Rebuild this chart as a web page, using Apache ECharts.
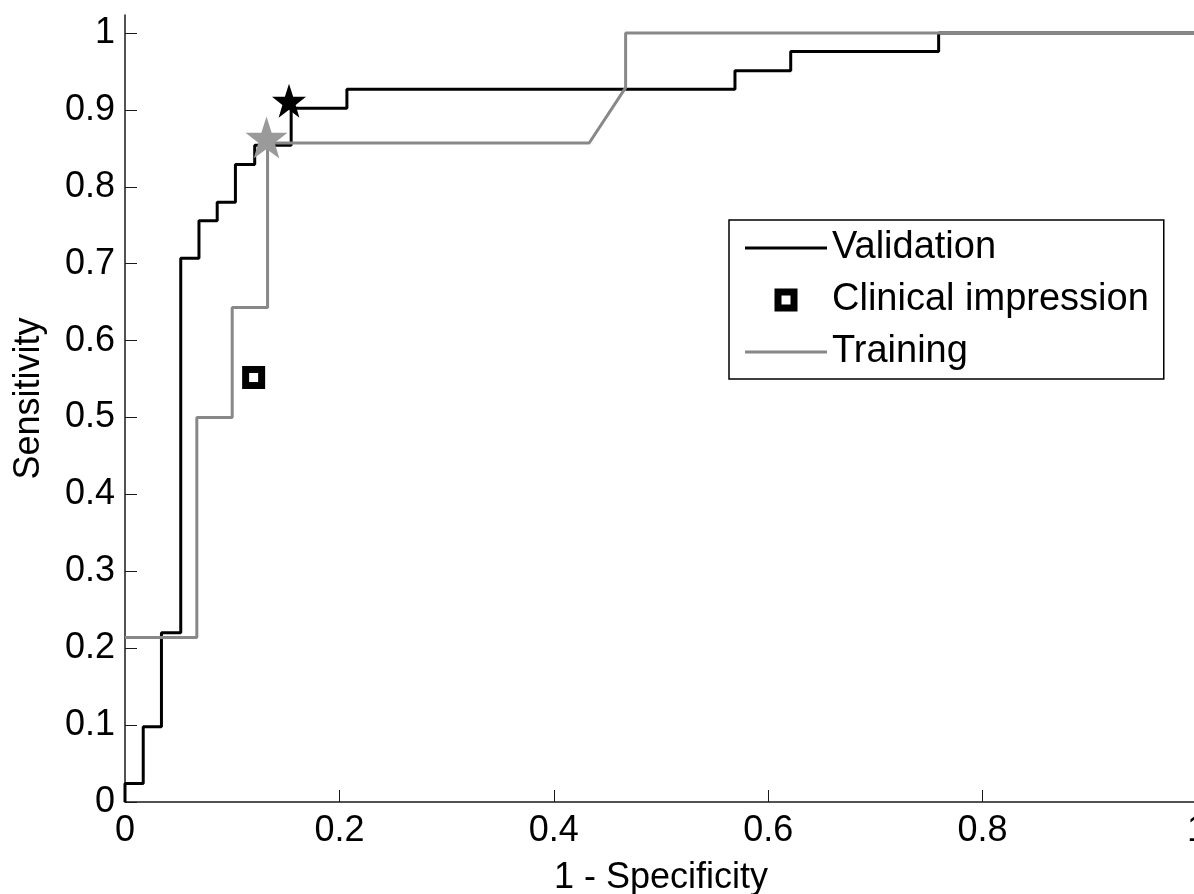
<!DOCTYPE html>
<html>
<head>
<meta charset="utf-8">
<title>ROC</title>
<script src="https://cdn.jsdelivr.net/npm/echarts@6/dist/echarts.min.js"></script>
<style>
    html, body { margin: 0; padding: 0; background: #fff; }
    #chart { width: 1194px; height: 894px; }
</style>
</head>
<body>
<div id="chart"></div>
<script>
// validation ROC points (1 - specificity, sensitivity)
const valFpr = [0, 0, 0.017, 0.017, 0.034, 0.034, 0.052, 0.052, 0.069, 0.069, 0.086, 0.086, 0.103, 0.103,
    0.121, 0.121, 0.155, 0.155, 0.207, 0.207, 0.569, 0.569, 0.621, 0.621, 0.759, 0.759, 1];
const valTpr = [0, 0.024, 0.024, 0.098, 0.098, 0.220, 0.220, 0.707, 0.707, 0.756, 0.756, 0.780, 0.780, 0.829,
    0.829, 0.854, 0.854, 0.902, 0.902, 0.927, 0.927, 0.951, 0.951, 0.976, 0.976, 1, 1];

// training ROC points
const trainFpr = [0, 0.067, 0.067, 0.100, 0.100, 0.133, 0.133, 0.433, 0.467, 0.467, 1];
const trainTpr = [0.214, 0.214, 0.500, 0.500, 0.643, 0.643, 0.857, 0.857, 0.929, 1, 1];

const clinicalPoint = [0.120, 0.552];
const valOptimal = [0.153, 0.912];
const trainOptimal = [0.132, 0.864];

const xTicks = [0, 0.2, 0.4, 0.6, 0.8, 1];
const yTicks = [0, 0.1, 0.2, 0.3, 0.4, 0.5, 0.6, 0.7, 0.8, 0.9, 1];

const FontFamily = '"Liberation Sans", Arial, sans-serif';
const AxisColor = '#1a1a1a';
const TrainColor = '#888888';
const starPath = 'path://M50,0 L61.8,35.1 L98.1,35.1 L68.8,56.7 L79.4,90.9 L50,70 L20.6,90.9 L31.2,56.7 L1.9,35.1 L38.2,35.1 Z';
const lineIcon = 'path://M0,0H82V3H0Z';
const squareIcon = 'path://M0,0H10V10H0Z';

const zip = (a, b) => a.map((v, i) => [v, b[i]]);

const myChart = echarts.init(document.getElementById('chart'));

const option = {
    animation: false,
    backgroundColor: '#fff',
    textStyle: { fontFamily: FontFamily },
    grid: {
        left: 125,
        right: -3,
        top: 15,
        bottom: 92,
        outerBoundsMode: 'none'
    },
    legend: {
        left: 729,
        top: 220,
        orient: 'vertical',
        padding: [9, 15, 8, 16],
        itemGap: 14,
        itemWidth: 82,
        itemHeight: 16,
        symbolKeepAspect: true,
        borderColor: '#000',
        borderWidth: 1.5,
        borderRadius: 0,
        backgroundColor: '#fff',
        textStyle: { fontSize: 38, color: '#000', fontFamily: FontFamily },
        data: [
            { name: 'Validation', icon: lineIcon, itemStyle: { color: '#000', borderWidth: 0 } },
            { name: 'Clinical impression', icon: squareIcon, itemStyle: { color: '#fff', borderColor: '#000', borderWidth: 7 } },
            { name: 'Training', icon: lineIcon, itemStyle: { color: TrainColor, borderWidth: 0 } }
        ]
    },
    xAxis: {
        type: 'value',
        min: 0,
        max: 1,
        name: '1 - Specificity',
        nameLocation: 'middle',
        nameGap: 58,
        nameTextStyle: { fontSize: 36, color: '#000' },
        axisLine: { show: true, lineStyle: { color: AxisColor, width: 1.5 } },
        axisTick: { show: true, inside: true, length: 12, customValues: xTicks, lineStyle: { color: AxisColor } },
        axisLabel: { fontSize: 36, color: '#000', margin: 11, customValues: xTicks },
        splitLine: { show: false }
    },
    yAxis: {
        type: 'value',
        min: 0,
        max: 1.0234,
        name: 'Sensitivity',
        nameLocation: 'middle',
        nameGap: 78,
        nameTextStyle: { fontSize: 36, color: '#000', padding: [0, 0, 0, 20] },
        axisLine: { show: true, lineStyle: { color: AxisColor, width: 1.5 } },
        axisTick: { show: true, inside: true, length: 12, customValues: yTicks, lineStyle: { color: AxisColor } },
        axisLabel: { fontSize: 36, color: '#000', margin: 10, customValues: yTicks },
        splitLine: { show: false }
    },
    series: [
        {
            name: 'Validation',
            type: 'line',
            data: zip(valFpr, valTpr),
            symbol: 'none',
            color: '#000',
            lineStyle: { color: '#000', width: 3 },
            z: 2
        },
        {
            name: 'Clinical impression',
            type: 'scatter',
            data: [clinicalPoint],
            symbol: 'rect',
            symbolSize: 16,
            itemStyle: { color: '#fff', borderColor: '#000', borderWidth: 7, opacity: 1 },
            z: 3
        },
        {
            name: 'Training',
            type: 'line',
            data: zip(trainFpr, trainTpr),
            symbol: 'none',
            color: TrainColor,
            lineStyle: { color: TrainColor, width: 3 },
            z: 2
        },
        {
            name: 'Validation optimum',
            type: 'scatter',
            data: [valOptimal],
            symbol: starPath,
            symbolSize: [34, 34],
            itemStyle: { color: '#000', opacity: 1 },
            z: 4
        },
        {
            name: 'Training optimum',
            type: 'scatter',
            data: [trainOptimal],
            symbol: starPath,
            symbolSize: [42, 42],
            itemStyle: { color: '#9a9a9a', opacity: 1 },
            z: 4
        }
    ]
};

myChart.setOption(option);
</script>
</body>
</html>
